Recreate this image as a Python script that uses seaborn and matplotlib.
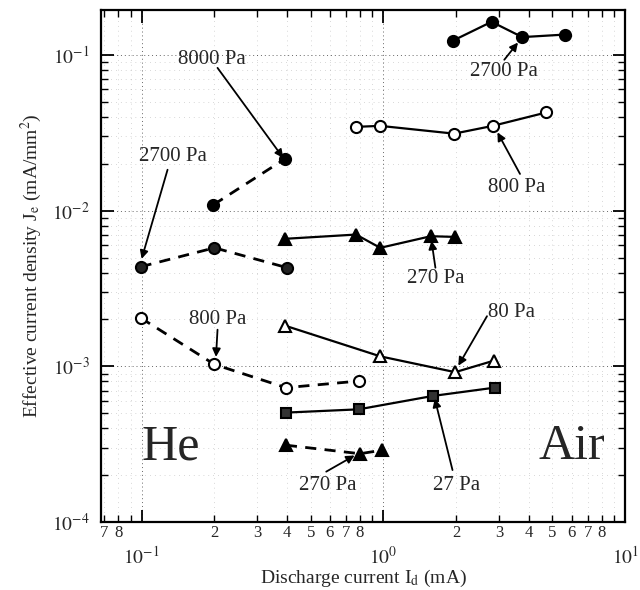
import numpy as np
import pandas as pd
import matplotlib
matplotlib.use("Agg")
import matplotlib.pyplot as plt
import matplotlib.ticker as mticker
import seaborn as sns

# ---------------- data ----------------
# Air series (solid lines)
air2700_x = [1.93, 2.8, 3.75, 5.64]
air2700_y = [0.123, 0.163, 0.130, 0.135]
air800_x = [0.77, 0.97, 1.96, 2.83, 4.72]
air800_y = [0.0345, 0.035, 0.0312, 0.035, 0.0427]
air270_x = [0.39, 0.77, 0.97, 1.57, 1.98]
air270_y = [0.00659, 0.00702, 0.00577, 0.00685, 0.00678]
air80_x = [0.39, 0.97, 1.98, 2.87]
air80_y = [0.00183, 0.00116, 0.000918, 0.00109]
air27_x = [0.395, 0.79, 1.6, 2.88]
air27_y = [0.000505, 0.00053, 0.000646, 0.00073]
# He series (dashed lines)
he8000_x = [0.198, 0.39]
he8000_y = [0.0109, 0.0214]
he2700_x = [0.099, 0.2, 0.4]
he2700_y = [0.00436, 0.00577, 0.0043]
he800_x = [0.099, 0.2, 0.395, 0.79]
he800_y = [0.00205, 0.00103, 0.00073, 0.000805]
he270_x = [0.395, 0.8, 0.99]
he270_y = [0.000312, 0.000275, 0.00029]

# annotation labels: (text, text position, arrow head position)
ann_text = ["8000 Pa", "2700 Pa", "2700 Pa", "800 Pa", "270 Pa",
            "80 Pa", "800 Pa", "270 Pa", "27 Pa"]
ann_xy_text = [(0.195, 0.093), (3.16, 0.078), (0.135, 0.0223), (3.55, 0.014),
               (1.65, 0.00365), (3.38, 0.00223), (0.206, 0.0020),
               (0.59, 0.000171), (2.0, 0.000171)]
ann_tail = [(0.206, 0.0825), (3.16, 0.0930), (0.128, 0.0183), (3.67, 0.0172),
            (1.64, 0.0043), (2.68, 0.0021), (0.206, 0.00172),
            (0.58, 0.000211), (1.93, 0.000216)]
ann_head = [(0.385, 0.0218), (3.6, 0.120), (0.1, 0.0049), (2.96, 0.0318),
            (1.58, 0.0064), (2.04, 0.00101), (0.203, 0.00115),
            (0.76, 0.000268), (1.63, 0.00062)]

gas_text = ["He", "Air"]
gas_xy = [(0.132, 0.000303), (6.0, 0.000303)]

# ---------------- style ----------------
sns.set_theme(style="ticks")
plt.rcParams["font.family"] = ["Liberation Serif", "DejaVu Serif"]
plt.rcParams["mathtext.fontset"] = "stix"

fig = plt.figure(figsize=(6.4, 5.9), dpi=100)
ax = fig.add_axes([0.158, 0.115, 0.819, 0.868])
ax.set_xscale("log")
ax.set_yscale("log")

series = [
    (air2700_x, air2700_y, "o", "black", "-"),
    (air800_x, air800_y, "o", "white", "-"),
    (air270_x, air270_y, "^", "black", "-"),
    (air80_x, air80_y, "^", "white", "-"),
    (air27_x, air27_y, "s", "#333333", "-"),
    (he8000_x, he8000_y, "o", "black", "--"),
    (he2700_x, he2700_y, "o", "#222222", "--"),
    (he800_x, he800_y, "o", "white", "--"),
    (he270_x, he270_y, "^", "black", "--"),
]
for xs, ys, mk, fc, ls in series:
    df = pd.DataFrame({"x": xs, "y": ys})
    sns.lineplot(data=df, x="x", y="y", ax=ax, estimator=None, sort=False,
                 color="black", linestyle=ls,
                 lw=1.6 if ls == "-" else 2.0,
                 marker=mk, markersize=8 if mk != "s" else 6.5,
                 markerfacecolor=fc, markeredgecolor="black",
                 markeredgewidth=1.5)
for line in ax.get_lines():
    if line.get_linestyle() == "--":
        line.set_dashes([4, 3])

ax.set_xlim(0.068, 10)
ax.set_ylim(1e-4, 0.194)

# grid (dotted, like the scanned figure)
ax.grid(True, which="major", linestyle=(0, (1, 3)), color="black",
        linewidth=0.7, alpha=0.6)
ax.grid(True, which="minor", linestyle=(0, (1, 6)), color="black",
        linewidth=0.5, alpha=0.3)

# ticks
ax.xaxis.set_major_locator(mticker.LogLocator(base=10, numticks=10))
ax.xaxis.set_minor_locator(mticker.LogLocator(base=10, subs=np.arange(2, 10), numticks=20))
ax.yaxis.set_major_locator(mticker.LogLocator(base=10, numticks=10))
ax.yaxis.set_minor_locator(mticker.LogLocator(base=10, subs=np.arange(2, 10), numticks=20))


def major_fmt(v, pos):
    e = int(round(np.log10(v)))
    return r"$10^{%d}$" % e


def minor_fmt(v, pos):
    e = np.floor(np.log10(v) + 1e-9)
    d = int(round(v / 10 ** e))
    return str(d) if 2 <= d <= 8 else ""


ax.xaxis.set_major_formatter(mticker.FuncFormatter(major_fmt))
ax.xaxis.set_minor_formatter(mticker.FuncFormatter(minor_fmt))
ax.yaxis.set_major_formatter(mticker.FuncFormatter(major_fmt))
ax.yaxis.set_minor_formatter(mticker.NullFormatter())

ax.tick_params(axis="both", which="both", direction="in", top=True, right=True,
               color="black")
ax.tick_params(axis="both", which="major", length=9, width=1.3, labelsize=14)
ax.tick_params(axis="both", which="minor", length=5, width=1.0)
ax.tick_params(axis="x", which="major", pad=17)
ax.tick_params(axis="x", which="minor", labelsize=12, pad=2)
ax.tick_params(axis="y", which="major", pad=8)

for s in ax.spines.values():
    s.set_linewidth(1.6)
    s.set_color("black")

ax.set_xlabel(r"Discharge current I$_\mathrm{d}$ (mA)", fontsize=14, labelpad=0)
ax.set_ylabel(r"Effective current density J$_\mathrm{e}$ (mA/mm$^2$)",
              fontsize=14, labelpad=6)

# annotations with arrows
for t, pt, tail, head in zip(ann_text, ann_xy_text, ann_tail, ann_head):
    ax.text(pt[0], pt[1], t, fontsize=15, ha="center", va="center")
    ax.annotate("", xy=head, xytext=tail,
                arrowprops=dict(arrowstyle="-|>", color="black", lw=1.3,
                                mutation_scale=12, shrinkA=0, shrinkB=0))

for t, pt in zip(gas_text, gas_xy):
    ax.text(pt[0], pt[1], t, fontsize=36, ha="center", va="center")

fig.savefig("out.png", dpi=100)
